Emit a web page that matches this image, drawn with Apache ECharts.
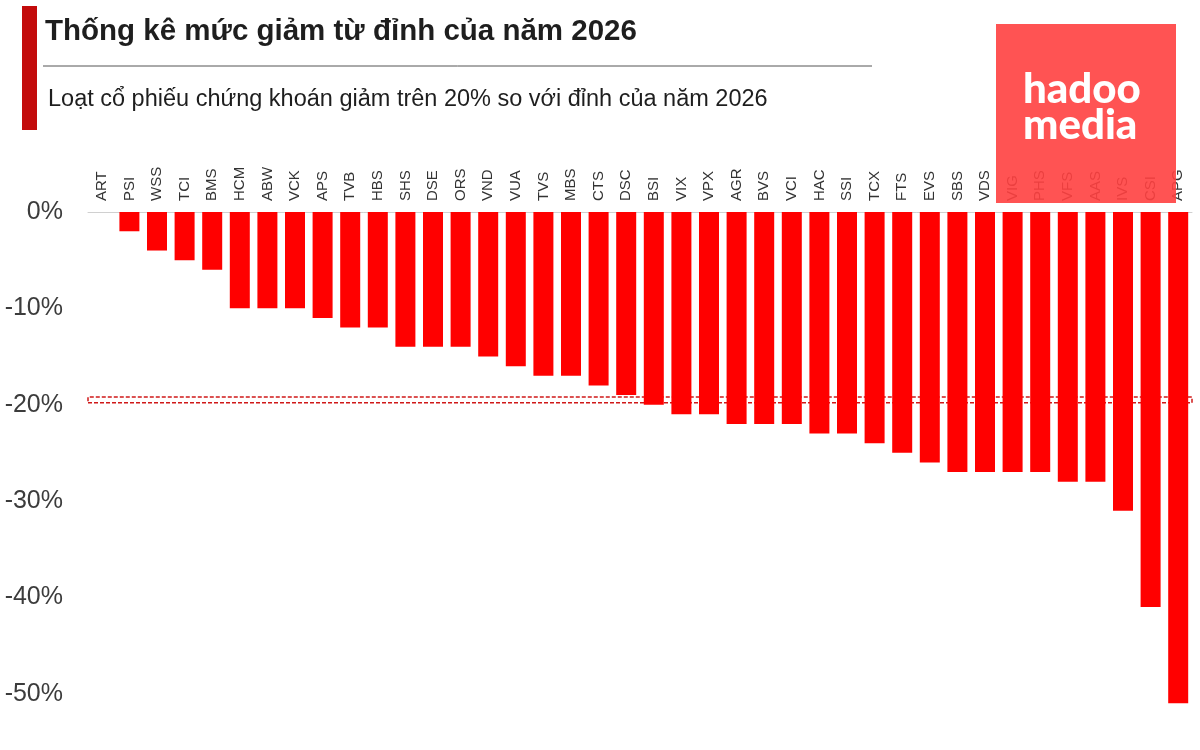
<!DOCTYPE html>
<html>
<head>
<meta charset="utf-8">
<title>Thống kê mức giảm từ đỉnh</title>
<script src="https://cdn.jsdelivr.net/npm/echarts@6/dist/echarts.min.js"></script>
<style>
  html, body { margin: 0; padding: 0; background: #fff; }
  #chart { width: 1200px; height: 750px; }
</style>
</head>
<body>
<div id="chart"></div>
<script>
// ma co phieu
const codes = ['ART', 'PSI', 'WSS', 'TCI', 'BMS', 'HCM', 'ABW', 'VCK', 'APS', 'TVB',
  'HBS', 'SHS', 'DSE', 'ORS', 'VND', 'VUA', 'TVS', 'MBS', 'CTS', 'DSC',
  'BSI', 'VIX', 'VPX', 'AGR', 'BVS', 'VCI', 'HAC', 'SSI', 'TCX', 'FTS',
  'EVS', 'SBS', 'VDS', 'VIG', 'PHS', 'VFS', 'AAS', 'IVS', 'CSI', 'APG'];
// muc giam tu dinh (%)
const drops = [0, -2, -4, -5, -6, -10, -10, -10, -11, -12,
  -12, -14, -14, -14, -15, -16, -17, -17, -18, -19,
  -20, -21, -21, -22, -22, -22, -23, -23, -24, -25,
  -26, -27, -27, -27, -27, -28, -28, -31, -41, -51];
// nguong 20%
const band = [-19.2, -19.8];
const yTicks = [0, -10, -20, -30, -40, -50];

const titleText = 'Thống kê mức giảm từ đỉnh của năm 2026';
const subText = 'Loạt cổ phiếu chứng khoán giảm trên 20% so với đỉnh của năm 2026';

let myChart = echarts.init(document.getElementById('chart'));

let option = {
  animation: false,
  backgroundColor: '#ffffff',
  grid: {
    top: 212,
    left: 88,
    right: 8,
    height: 578,
    outerBoundsMode: 'none'
  },
  xAxis: {
    type: 'category',
    position: 'top',
    data: codes,
    axisLine: { show: true, lineStyle: { color: '#d0d0d0', width: 1 } },
    axisTick: { show: false },
    axisLabel: {
      rotate: 90,
      margin: 11,
      interval: 0,
      fontFamily: 'Liberation Sans',
      fontSize: 15,
      color: '#333333'
    }
  },
  yAxis: {
    type: 'value',
    min: -60,
    max: 0,
    interval: 10,
    axisLine: { show: false },
    axisTick: { show: false },
    splitLine: { show: false },
    axisLabel: {
      margin: 25,
      fontFamily: 'Liberation Sans',
      fontSize: 25,
      color: '#3c3c3c',
      formatter: function (v) {
        return yTicks.indexOf(v) >= 0 ? v + '%' : '';
      }
    }
  },
  series: [{
    type: 'bar',
    data: drops,
    barWidth: 20,
    itemStyle: { color: '#ff0000' },
    markArea: {
      silent: true,
      itemStyle: {
        color: 'rgba(0,0,0,0)',
        borderColor: '#d01818',
        borderWidth: 1.5,
        borderType: [4, 2]
      },
      data: [[{ yAxis: band[0] }, { yAxis: band[1] }]]
    }
  }],
  graphic: [
    // thanh do ben trai
    { type: 'rect', left: 22, top: 6, shape: { width: 15, height: 124 }, style: { fill: '#c30b0b' } },
    {
      type: 'text', left: 45, top: 17,
      style: { text: titleText, font: 'bold 29.5px "Liberation Sans"', fill: '#1e1e1e' }
    },
    {
      type: 'line', shape: { x1: 43, y1: 66, x2: 872, y2: 66 },
      style: { stroke: '#555555', lineWidth: 1 }
    },
    {
      type: 'text', left: 48, top: 88,
      style: { text: subText, font: '23.5px "Liberation Sans"', fill: '#1e1e1e' }
    },
    // logo
    {
      type: 'rect', left: 996, top: 24, z: 100,
      shape: { width: 180, height: 179 },
      style: { fill: 'rgba(255, 64, 64, 0.9)' }
    },
    {
      type: 'text', left: 1023, top: 68, z: 101,
      style: {
        text: 'hadoo', font: '900 42px Lato', fill: '#ffffff',
        textShadowColor: '#f7a5a5', textShadowOffsetX: 3, textShadowOffsetY: 3
      }
    },
    {
      type: 'text', left: 1023, top: 104, z: 101,
      style: {
        text: 'media', font: '900 42px Lato', fill: '#ffffff',
        textShadowColor: '#f7a5a5', textShadowOffsetX: 3, textShadowOffsetY: 3
      }
    }
  ]
};

myChart.setOption(option);
</script>
</body>
</html>
